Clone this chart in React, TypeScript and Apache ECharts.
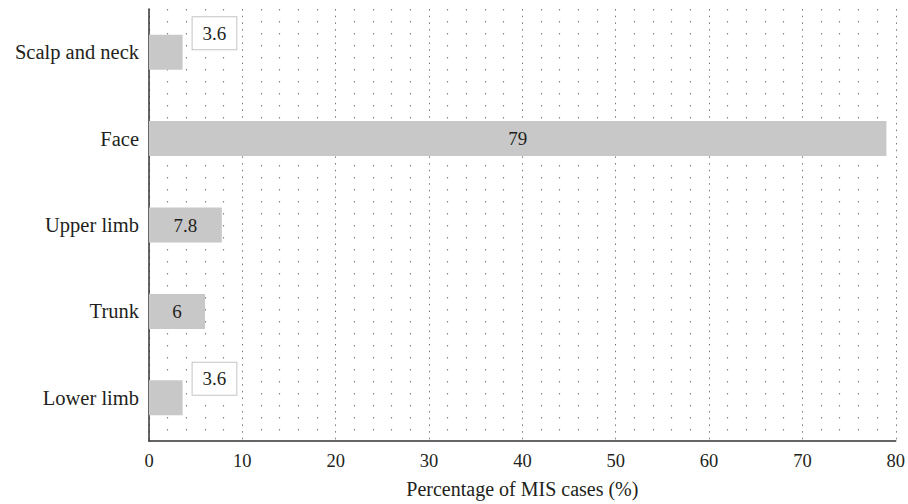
import React, { useEffect, useRef } from "react";
import * as echarts from "echarts";

const categories = ["Scalp and neck", "Face", "Upper limb", "Trunk", "Lower limb"];
const values = [3.6, 79, 7.8, 6, 3.6];
const boxedLabel = [true, false, false, false, true];

const FONT = "'Liberation Serif', 'Times New Roman', serif";

export default function App() {
  const ref = useRef<HTMLDivElement>(null);
  useEffect(() => {
    if (!ref.current) return;
    const chart = echarts.init(ref.current, null, { renderer: "svg" });
    const data = values.map((v, i) =>
      boxedLabel[i]
        ? {
            value: v,
            label: {
              show: true,
              position: "right",
              distance: 10,
              offset: [0, -19],
              backgroundColor: "#ffffff",
              borderColor: "#c4c4c4",
              borderWidth: 1,
              padding: [7, 10, 6, 10],
              fontSize: 19,
              fontFamily: FONT,
              color: "#231f20",
            },
          }
        : { value: v }
    );
    chart.setOption({
      animation: false,
      backgroundColor: "#ffffff",
      textStyle: { fontFamily: FONT },
      grid: { left: 149, right: 8, top: 9, bottom: 57, containLabel: false },
      xAxis: {
        type: "value",
        min: 0,
        max: 80,
        interval: 10,
        name: "Percentage of MIS cases (%)",
        nameLocation: "middle",
        nameGap: 38,
        nameTextStyle: { fontSize: 20, color: "#231f20", fontFamily: FONT },
        axisLine: { show: true, lineStyle: { color: "#333", width: 1.5 } },
        axisTick: { show: false },
        axisLabel: { fontSize: 18.5, color: "#231f20", margin: 10, fontFamily: FONT },
        splitLine: { show: true, lineStyle: { color: "#777", width: 1, type: [1.5, 5.2] } },
        minorTick: { show: false, splitNumber: 5 },
        minorSplitLine: { show: true, lineStyle: { color: "#888", width: 1.2, type: [1.5, 10.5] } },
      },
      yAxis: {
        type: "category",
        data: categories,
        inverse: true,
        axisLine: { show: true, lineStyle: { color: "#333", width: 1.5 } },
        axisTick: { show: false },
        axisLabel: { fontSize: 20.5, color: "#231f20", margin: 10, fontFamily: FONT },
        splitLine: { show: false },
      },
      series: [
        {
          type: "bar",
          data,
          barWidth: 35,
          itemStyle: { color: "#c8c8c9" },
          label: {
            show: true,
            position: "inside",
            fontSize: 19,
            fontFamily: FONT,
            color: "#231f20",
          },
        },
      ],
    });
    return () => chart.dispose();
  }, []);
  return (
    <div
      ref={ref}
      style={{ position: "absolute", left: 0, top: 0, width: 908, height: 504 }}
    />
  );
}
